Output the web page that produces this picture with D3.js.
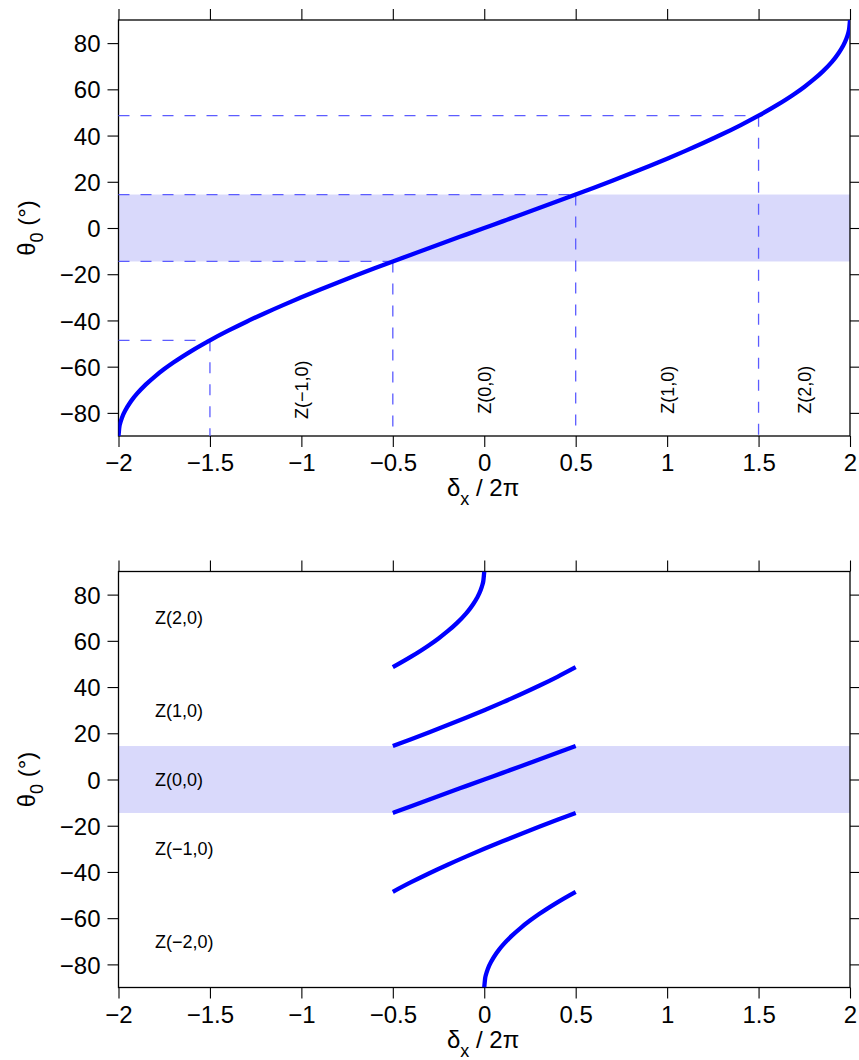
<!DOCTYPE html>
<html>
<head>
<meta charset="utf-8">
<script src="https://cdn.jsdelivr.net/npm/d3@7"></script>
<style>
  html, body { margin: 0; padding: 0; background: #fff; }
  svg { display: block; }
  text { font-family: "Liberation Sans", Arial, Helvetica, sans-serif; fill: #000; }
</style>
</head>
<body>
<svg id="chart" width="859" height="1060"></svg>
<script>
// ---------- data ----------
const xTicks = [-2, -1.5, -1, -0.5, 0, 0.5, 1, 1.5, 2];
const xTickLabels = ["\u22122", "\u22121.5", "\u22121", "\u22120.5", "0", "0.5", "1", "1.5", "2"];
const yTicks = [-80, -60, -40, -20, 0, 20, 40, 60, 80];
const yTickLabels = ["\u221280", "\u221260", "\u221240", "\u221220", "0", "20", "40", "60", "80"];

// top panel: full curve theta0 (deg) vs delta_x / 2pi
const curveX = [-2, -1.995, -1.99, -1.98, -1.96, -1.94, -1.92, -1.9, -1.85, -1.8, -1.75, -1.7, -1.6, -1.5, -1.4, -1.3, -1.2, -1.1, -1.0, -0.9, -0.8, -0.7, -0.6, -0.5, -0.4, -0.3, -0.2, -0.1, 0,
  0.1, 0.2, 0.3, 0.4, 0.5, 0.6, 0.7, 0.8, 0.9, 1.0, 1.1, 1.2, 1.3, 1.4, 1.5, 1.6, 1.7, 1.75, 1.8, 1.85, 1.9, 1.92, 1.94, 1.96, 1.98, 1.99, 1.995, 2];
const curveTheta = [-90, -85.95, -84.27, -81.89, -78.52, -75.93, -73.74, -71.81, -67.67, -64.16, -61.04, -58.21, -53.13, -48.59, -44.43, -40.54, -36.87, -33.37, -30, -26.74, -23.58, -20.49, -17.46, -14.48, -11.54, -8.63, -5.74, -2.87, 0,
  2.87, 5.74, 8.63, 11.54, 14.48, 17.46, 20.49, 23.58, 26.74, 30, 33.37, 36.87, 40.54, 44.43, 48.59, 53.13, 58.21, 61.04, 64.16, 67.67, 71.81, 73.74, 75.93, 78.52, 81.89, 84.27, 85.95, 90];

// guide lines (top panel)
const guideX = [-1.5, -0.5, 0.5, 1.5];
const guideTheta = [-48.59, -14.48, 14.48, 48.59];

// shaded band
const bandLow = -14.48;
const bandHigh = 14.48;

// top panel labels
const topLabels = ["Z(\u22121,0)", "Z(0,0)", "Z(1,0)", "Z(2,0)"];
const topLabelX = [-1, 0, 1, 1.75];
const topLabelTheta = -70;

// bottom panel branches
const z2X = [-0.5, -0.4, -0.3, -0.25, -0.2, -0.15, -0.1, -0.08, -0.06, -0.04, -0.02, -0.01, -0.005, 0];
const z2Theta = [48.59, 53.13, 58.21, 61.04, 64.16, 67.67, 71.81, 73.74, 75.93, 78.52, 81.89, 84.27, 85.95, 90];
const z1X = [-0.5, -0.4, -0.3, -0.2, -0.1, 0, 0.1, 0.2, 0.3, 0.4, 0.5];
const z1Theta = [14.48, 17.46, 20.49, 23.58, 26.74, 30, 33.37, 36.87, 40.54, 44.43, 48.59];
const z0X = [-0.5, -0.4, -0.3, -0.2, -0.1, 0, 0.1, 0.2, 0.3, 0.4, 0.5];
const z0Theta = [-14.48, -11.54, -8.63, -5.74, -2.87, 0, 2.87, 5.74, 8.63, 11.54, 14.48];
const zm1X = [-0.5, -0.4, -0.3, -0.2, -0.1, 0, 0.1, 0.2, 0.3, 0.4, 0.5];
const zm1Theta = [-48.59, -44.43, -40.54, -36.87, -33.37, -30, -26.74, -23.58, -20.49, -17.46, -14.48];
const zm2X = [0, 0.005, 0.01, 0.02, 0.04, 0.06, 0.08, 0.1, 0.15, 0.2, 0.25, 0.3, 0.4, 0.5];
const zm2Theta = [-90, -85.95, -84.27, -81.89, -78.52, -75.93, -73.74, -71.81, -67.67, -64.16, -61.04, -58.21, -53.13, -48.59];

const bottomLabels = ["Z(2,0)", "Z(1,0)", "Z(0,0)", "Z(\u22121,0)", "Z(\u22122,0)"];
const bottomLabelTheta = [70, 30, 0, -30, -70];
const bottomLabelX = -1.8;

// ---------- drawing ----------
const svg = d3.select("#chart");
const left = 118.5, right = 850;
const FONT = 24;
const LABEL_FONT = 18;
const BLUE = "#0000ff";
const GUIDE = "#5c5cff";
const BAND = "#d9d9fb";

const x = d3.scaleLinear().domain([-2, 2]).range([left, right]);

function zip(xs, ys) { return xs.map((v, i) => [v, ys[i]]); }

function panel(top, bottom) {
  const y = d3.scaleLinear().domain([-90, 90]).range([bottom, top]);
  const g = svg.append("g");
  const clipId = "clip" + Math.round(top);
  svg.append("clipPath").attr("id", clipId)
    .append("rect").attr("x", left).attr("y", top).attr("width", right - left).attr("height", bottom - top);

  // band
  g.append("rect")
    .attr("x", left).attr("width", right - left)
    .attr("y", y(bandHigh)).attr("height", y(bandLow) - y(bandHigh))
    .attr("fill", BAND);

  // axes
  const axL = d3.axisLeft(y).tickValues(yTicks).tickFormat((d, i) => yTickLabels[i]).tickSize(11).tickPadding(7).tickSizeOuter(0);
  const axR = d3.axisRight(y).tickValues(yTicks).tickFormat("").tickSize(11).tickSizeOuter(0);
  const axB = d3.axisBottom(x).tickValues(xTicks).tickFormat((d, i) => xTickLabels[i]).tickSize(11).tickPadding(7).tickSizeOuter(0);
  const axT = d3.axisTop(x).tickValues(xTicks).tickFormat("").tickSize(11).tickSizeOuter(0);

  const gl = g.append("g").attr("transform", `translate(${left},0)`).call(axL);
  const gr = g.append("g").attr("transform", `translate(${right},0)`).call(axR);
  const gb = g.append("g").attr("transform", `translate(0,${bottom})`).call(axB);
  const gt = g.append("g").attr("transform", `translate(0,${top})`).call(axT);
  [gl, gr, gb, gt].forEach(a => {
    a.select(".domain").remove();
    a.selectAll(".tick line").attr("stroke", "#000").attr("stroke-width", 1.1);
    a.selectAll("text").attr("font-size", FONT).attr("font-family", "Liberation Sans, Arial, sans-serif").attr("fill", "#000");
  });
  gl.selectAll("text").attr("dy", "0.36em");
  gb.selectAll("text").attr("dy", "0.71em");

  // frame
  g.append("rect").attr("x", left).attr("y", top).attr("width", right - left).attr("height", bottom - top)
    .attr("fill", "none").attr("stroke", "#000").attr("stroke-width", 1.3);

  // y label
  const yl = g.append("text")
    .attr("transform", `translate(35,${(top + bottom) / 2}) rotate(-90)`)
    .attr("text-anchor", "middle").attr("font-size", FONT);
  yl.append("tspan").text("\u03b8");
  yl.append("tspan").attr("font-size", 18).attr("dy", 8).text("0");
  yl.append("tspan").attr("dy", -8).text(" (\u00b0)");

  // x label
  const xl = g.append("text")
    .attr("x", 447).attr("y", bottom + 60).attr("font-size", FONT);
  xl.append("tspan").text("\u03b4");
  xl.append("tspan").attr("font-size", 18).attr("dy", 9).text("x");
  xl.append("tspan").attr("dy", -9).text(" / 2\u03c0");

  return { g, y, clipId };
}

const line = (y) => d3.line().x(d => x(d[0])).y(d => y(d[1])).curve(d3.curveMonotoneX);

// ----- top panel -----
const P1 = panel(20, 436);
{
  const { g, y } = P1;
  guideX.forEach((gx, i) => {
    g.append("line").attr("x1", x(-2)).attr("x2", x(gx)).attr("y1", y(guideTheta[i])).attr("y2", y(guideTheta[i]))
      .attr("stroke", GUIDE).attr("stroke-width", 1.3).attr("stroke-dasharray", "11,11");
    g.append("line").attr("x1", x(gx)).attr("x2", x(gx)).attr("y1", y(guideTheta[i])).attr("y2", y(-90))
      .attr("stroke", GUIDE).attr("stroke-width", 1.3).attr("stroke-dasharray", "11,11");
  });
  g.append("path").datum(zip(curveX, curveTheta))
    .attr("d", line(y)).attr("fill", "none").attr("stroke", BLUE).attr("stroke-width", 4.3)
    .attr("clip-path", `url(#${P1.clipId})`);
  topLabels.forEach((t, i) => {
    g.append("text")
      .attr("transform", `translate(${x(topLabelX[i])},${y(topLabelTheta)}) rotate(-90)`)
      .attr("text-anchor", "middle").attr("dy", "0.36em").attr("font-size", LABEL_FONT).text(t);
  });
}

// ----- bottom panel -----
const P2 = panel(571.5, 987.5);
{
  const { g, y } = P2;
  const branches = [zip(z2X, z2Theta), zip(z1X, z1Theta), zip(z0X, z0Theta), zip(zm1X, zm1Theta), zip(zm2X, zm2Theta)];
  branches.forEach(b => {
    g.append("path").datum(b)
      .attr("d", line(y)).attr("fill", "none").attr("stroke", BLUE).attr("stroke-width", 4.3)
      .attr("clip-path", `url(#${P2.clipId})`);
  });
  bottomLabels.forEach((t, i) => {
    g.append("text").attr("x", x(bottomLabelX)).attr("y", y(bottomLabelTheta[i]))
      .attr("dy", "0.36em").attr("font-size", LABEL_FONT).text(t);
  });
}
</script>
</body>
</html>
